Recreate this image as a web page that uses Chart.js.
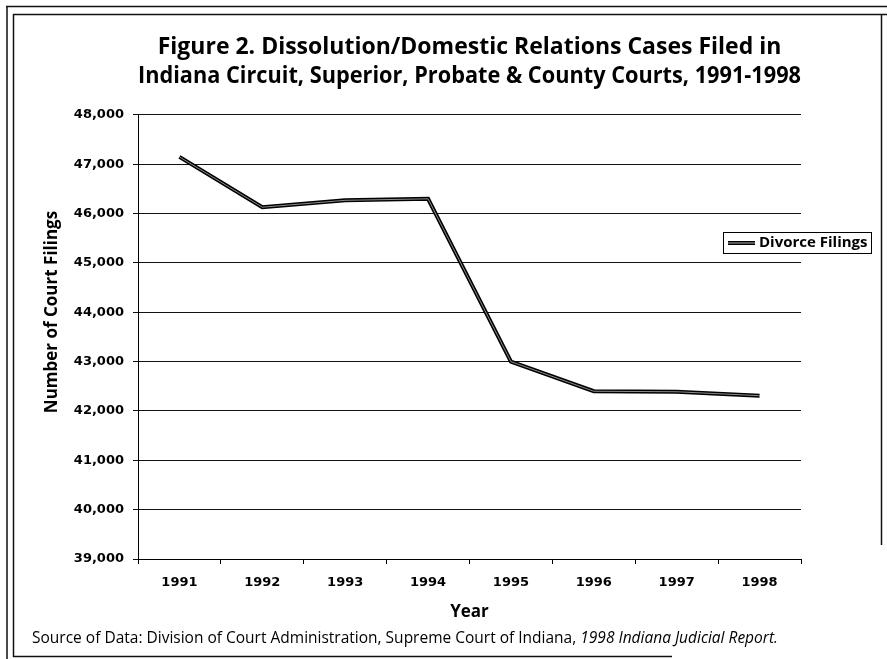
<!DOCTYPE html>
<html>
<head>
<meta charset="utf-8">
<script src="https://cdn.jsdelivr.net/npm/chart.js@4.4.1/dist/chart.umd.min.js"></script>
<style>
  html, body { margin: 0; padding: 0; background: #fff; }
  #wrap { position: relative; width: 887px; height: 659px; }
</style>
</head>
<body>
<div id="wrap"><canvas id="chart"></canvas></div>
<script>
// Divorce filings per year, 1991-1998
const years = ['1991', '1992', '1993', '1994', '1995', '1996', '1997', '1998'];
const filings = [47150, 46130, 46270, 46300, 43000, 42400, 42390, 42310];
const seriesName = 'Divorce Filings';

const yMin = 39000;
const yMax = 48000;
const yStep = 1000;

const titleLines = [
    'Figure 2. Dissolution/Domestic Relations Cases Filed in',
    'Indiana Circuit, Superior, Probate & County Courts, 1991-1998'
];
const yTitle = 'Number of Court Filings';
const xTitle = 'Year';
const sourcePlain = 'Source of Data: Division of Court Administration, Supreme Court of Indiana, ';
const sourceItalic = '1998 Indiana Judicial Report.';

const headFont = '"Open Sans", "Noto Sans", sans-serif';
const tickFont = '"DejaVu Sans", sans-serif';

// page border: double line on the top and left, single elsewhere
const framePlugin = {
    id: 'frame',
    beforeDraw(chart) {
        const ctx = chart.ctx;
        ctx.save();
        ctx.fillStyle = '#fff';
        ctx.fillRect(0, 0, chart.width, chart.height);
        ctx.strokeStyle = '#111';
        ctx.lineWidth = 1.5;
        ctx.beginPath();
        ctx.moveTo(6, 6.5); ctx.lineTo(887, 6.5);
        ctx.moveTo(13, 14.5); ctx.lineTo(887, 14.5);
        ctx.moveTo(7, 6); ctx.lineTo(7, 659);
        ctx.moveTo(13.5, 14); ctx.lineTo(13.5, 657);
        ctx.moveTo(13, 656.5); ctx.lineTo(672, 656.5);
        ctx.moveTo(881.5, 14); ctx.lineTo(881.5, 545);
        ctx.stroke();
        ctx.restore();
    }
};

// thin light core inside the data line, so it reads as a double rule
const lineCorePlugin = {
    id: 'lineCore',
    afterDatasetsDraw(chart) {
        const pts = chart.getDatasetMeta(0).data;
        const ctx = chart.ctx;
        ctx.save();
        ctx.strokeStyle = 'rgba(255,255,255,0.55)';
        ctx.lineWidth = 1;
        ctx.lineJoin = 'miter';
        ctx.beginPath();
        pts.forEach((p, i) => i ? ctx.lineTo(p.x, p.y) : ctx.moveTo(p.x, p.y));
        ctx.stroke();
        ctx.restore();
    }
};

// y title, boxed legend and source note
const extrasPlugin = {
    id: 'extras',
    afterDraw(chart) {
        const ctx = chart.ctx;
        const area = chart.chartArea;
        const ds = chart.data.datasets[0];
        ctx.save();

        // vertical axis title
        ctx.fillStyle = '#000';
        ctx.font = 'bold 17px ' + headFont;
        ctx.textAlign = 'center';
        ctx.textBaseline = 'middle';
        ctx.translate(52, (area.top + area.bottom) / 2 - 25);
        ctx.rotate(-Math.PI / 2);
        ctx.fillText(yTitle, 0, 0);
        ctx.setTransform(1, 0, 0, 1, 0, 0);

        // legend box
        const bx = 723, by = 232, bw = 148, bh = 21;
        ctx.fillStyle = '#fff';
        ctx.fillRect(bx, by, bw, bh);
        ctx.strokeStyle = '#000';
        ctx.lineWidth = 1;
        ctx.strokeRect(bx + 0.5, by + 0.5, bw, bh);
        const ly = by + bh / 2 + 0.5;
        ctx.strokeStyle = ds.borderColor;
        ctx.lineWidth = 4;
        ctx.beginPath(); ctx.moveTo(bx + 5, ly); ctx.lineTo(bx + 32, ly); ctx.stroke();
        ctx.strokeStyle = 'rgba(255,255,255,0.7)';
        ctx.lineWidth = 1;
        ctx.beginPath(); ctx.moveTo(bx + 5, ly); ctx.lineTo(bx + 32, ly); ctx.stroke();
        ctx.fillStyle = '#000';
        ctx.font = 'bold 15px ' + headFont;
        ctx.textAlign = 'left';
        ctx.fillText(ds.label, bx + 36, ly);

        // source line, report name in italics
        ctx.font = '15.5px ' + headFont;
        ctx.fillText(sourcePlain, 32, 639);
        const w = ctx.measureText(sourcePlain).width;
        ctx.font = 'italic 15.5px ' + headFont;
        ctx.fillText(sourceItalic, 32 + w, 639);
        ctx.restore();
    }
};

new Chart(document.getElementById('chart'), {
    type: 'line',
    data: {
        labels: years,
        datasets: [{
            label: seriesName,
            data: filings,
            borderColor: '#000',
            backgroundColor: '#000',
            borderWidth: 4,
            borderJoinStyle: 'miter',
            pointRadius: 0,
            tension: 0
        }]
    },
    options: {
        responsive: true,
        maintainAspectRatio: false,
        animation: false,
        layout: { padding: { left: 20, right: 86, top: 0, bottom: 37 } },
        plugins: {
            legend: { display: false },
            tooltip: { enabled: false },
            title: {
                display: true,
                fullSize: false,
                text: titleLines,
                color: '#000',
                font: { family: headFont, size: 23, weight: 'bold', lineHeight: 1.26 },
                padding: { top: 33, bottom: 24 }
            }
        },
        scales: {
            x: {
                offset: true,
                afterFit(scale) { scale.height = 63; },
                grid: {
                    offset: true,
                    drawOnChartArea: false,
                    color: '#000',
                    tickLength: 5
                },
                border: { color: '#000', width: 1 },
                ticks: {
                    color: '#000',
                    padding: 11,
                    font: { family: tickFont, size: 13, weight: 'bold' }
                },
                title: {
                    display: true,
                    text: xTitle,
                    color: '#000',
                    font: { family: headFont, size: 17, weight: 'bold' },
                    padding: { top: 6, bottom: 0 }
                }
            },
            y: {
                min: yMin,
                max: yMax,
                afterFit(scale) { scale.width = 118; },
                grid: { color: '#111', tickLength: 5 },
                border: { color: '#000', width: 1 },
                ticks: {
                    stepSize: yStep,
                    color: '#000',
                    padding: 9,
                    font: { family: tickFont, size: 13, weight: 'bold' },
                    callback: v => v.toLocaleString('en-US')
                }
            }
        }
    },
    plugins: [framePlugin, lineCorePlugin, extrasPlugin]
});
</script>
</body>
</html>
